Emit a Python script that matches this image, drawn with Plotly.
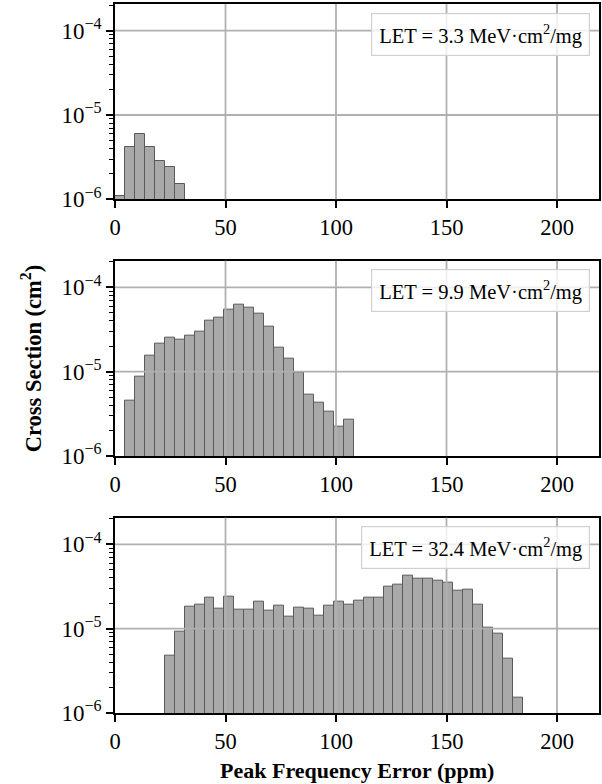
import plotly.graph_objects as go
from plotly.subplots import make_subplots

BIN_WIDTH = 4.5

# Panel 1: LET = 3.3
let1_bins = [0, 4.5, 9, 13.5, 18, 22.5, 27]
let1_vals = [1.1e-6, 4.2e-6, 5.9e-6, 4.2e-6, 2.86e-6, 2.45e-6, 1.54e-6]

# Panel 2: LET = 9.9
let2_bins = [4.5 * i for i in range(1, 24)]
let2_vals = [4.5e-6, 8.7e-6, 1.53e-5, 2.16e-5, 2.55e-5, 2.37e-5, 2.67e-5, 2.97e-5,
             4.02e-5, 4.4e-5, 5.48e-5, 6.28e-5, 5.78e-5, 4.91e-5, 3.41e-5, 1.95e-5,
             1.41e-5, 9.6e-6, 5.35e-6, 4.26e-6, 3.36e-6, 2.23e-6, 2.68e-6]

# Panel 3: LET = 32.4
let3_bins = [4.5 * i for i in range(5, 41)]
let3_vals = [4.8e-6, 9.2e-6, 1.81e-5, 1.9e-5, 2.3e-5, 1.73e-5, 2.38e-5, 1.7e-5,
             1.7e-5, 2.08e-5, 1.65e-5, 1.85e-5, 1.4e-5, 1.75e-5, 1.72e-5, 1.43e-5,
             1.85e-5, 2.07e-5, 1.93e-5, 2.13e-5, 2.32e-5, 2.34e-5, 3.13e-5, 3.34e-5,
             4.27e-5, 3.94e-5, 3.87e-5, 3.73e-5, 3.53e-5, 2.86e-5, 2.87e-5, 1.93e-5,
             1.04e-5, 8.8e-6, 4.35e-6, 1.52e-6]

labels = ["LET = 3.3 MeV·cm<sup>2</sup>/mg",
          "LET = 9.9 MeV·cm<sup>2</sup>/mg",
          "LET = 32.4 MeV·cm<sup>2</sup>/mg"]

x_ticks = [0, 50, 100, 150, 200]
y_ticks = [1e-6, 1e-5, 1e-4]
y_ticktext = ["10<sup>−6</sup>", "10<sup>−5</sup>", "10<sup>−4</sup>"]
y_minor = [m * 10.0 ** e for e in (-6, -5) for m in range(2, 10)] + [2e-4]

panels = [(let1_bins, let1_vals), (let2_bins, let2_vals), (let3_bins, let3_vals)]

fig = make_subplots(rows=3, cols=1, vertical_spacing=0.087)

FONT = "Liberation Serif"
domains = [[0.7245, 1.0], [0.3625, 0.638], [0.0, 0.2755]]

for i, (bins, vals) in enumerate(panels):
    r = i + 1
    fig.add_trace(go.Bar(x=bins, y=vals, width=BIN_WIDTH, offset=0,
                         marker=dict(color="#a9a9a9", line=dict(color="#5a5a5a", width=1)),
                         showlegend=False), row=r, col=1)
    # grid lines drawn above the bars
    for xv in x_ticks[1:]:
        fig.add_vline(x=xv, line=dict(color="#b0b0b0", width=1.8), layer="above", row=r, col=1)
    for yv in y_ticks[1:]:
        fig.add_hline(y=yv, line=dict(color="#b0b0b0", width=1.8), layer="above", row=r, col=1)

    fig.update_xaxes(row=r, col=1, range=[0, 219], tickvals=x_ticks,
                     ticktext=[str(v) for v in x_ticks], showgrid=False, zeroline=False,
                     showline=True, linecolor="black", linewidth=1.8, mirror=True,
                     ticks="outside", ticklen=7, tickwidth=1.8, tickcolor="black",
                     tickfont=dict(family=FONT, size=22.5, color="black"))
    fig.update_yaxes(row=r, col=1, type="log", range=[-6, -3.684], tickvals=y_ticks,
                     ticktext=y_ticktext, showgrid=False, zeroline=False,
                     showline=True, linecolor="black", linewidth=1.8, mirror=True,
                     ticks="outside", ticklen=7, tickwidth=1.8, tickcolor="black",
                     minor=dict(tickmode="array", tickvals=y_minor, ticks="outside",
                                ticklen=4, tickwidth=1.2, tickcolor="black", showgrid=False),
                     tickfont=dict(family=FONT, size=23, color="black"),
                     domain=domains[i])

    xref = "x domain" if r == 1 else f"x{r} domain"
    yref = "y domain" if r == 1 else f"y{r} domain"
    fig.add_annotation(xref=xref, yref=yref, x=0.981, y=0.955, xanchor="right", yanchor="top",
                       text=labels[i], showarrow=False,
                       font=dict(family=FONT, size=20.5, color="black"),
                       bgcolor="rgba(255,255,255,0.8)", bordercolor="#d0d0d0",
                       borderwidth=1.2, borderpad=7)

fig.add_annotation(xref="paper", yref="paper", x=-0.174, y=0.5, xanchor="center", yanchor="middle",
                   text="<b>Cross Section (cm<sup>2</sup>)</b>", textangle=-90, showarrow=False,
                   font=dict(family=FONT, size=22.5, color="black"))
fig.add_annotation(xref="paper", yref="paper", x=0.5, y=-0.081, xanchor="center", yanchor="middle",
                   text="<b>Peak Frequency Error (ppm)</b>", showarrow=False,
                   font=dict(family=FONT, size=22, color="black"))

fig.update_layout(width=602, height=784, margin=dict(l=114.5, r=2.5, t=4, b=71.3),
                  paper_bgcolor="white", plot_bgcolor="white", bargap=0,
                  font=dict(family=FONT, color="black"))

fig.write_html("out.html")
